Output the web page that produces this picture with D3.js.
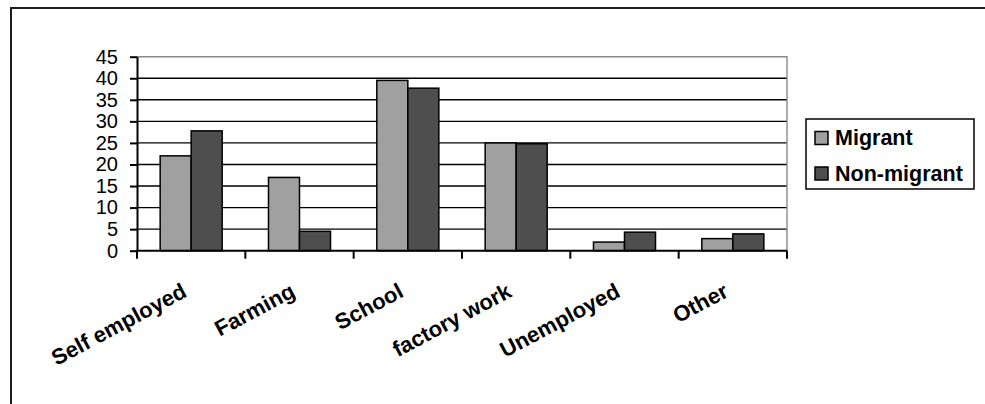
<!DOCTYPE html>
<html>
<head>
<meta charset="utf-8">
<script src="https://cdn.jsdelivr.net/npm/d3@7"></script>
<style>
  html, body { margin: 0; padding: 0; background: #fff; }
  svg { display: block; }
  text { font-family: "Liberation Sans", Arial, sans-serif; fill: #000; }
</style>
</head>
<body>
<svg id="chart" width="985" height="404"></svg>
<script>
// Occupation of respondents, migrant vs non-migrant (%)
const categories = ["Self employed", "Farming", "School", "factory work", "Unemployed", "Other"];
const seriesNames = ["Migrant", "Non-migrant"];
const migrant = [22, 17, 39.5, 25, 2, 2.8];
const nonMigrant = [27.8, 4.5, 37.7, 24.8, 4.3, 3.9];
const yTicks = [0, 5, 10, 15, 20, 25, 30, 35, 40, 45];

const seriesValues = [migrant, nonMigrant];
const seriesFill = ["#a0a0a0", "#4e4e4e"];

const svg = d3.select("#chart");

// chart frame (only top and left edges fall inside the view)
svg.append("path")
  .attr("d", "M11,404 V8 H985")
  .attr("fill", "none")
  .attr("stroke", "#1c1c1c")
  .attr("stroke-width", 2);

const plot = { left: 137, right: 787, top: 56.7, bottom: 250.7 };

const x = d3.scaleBand()
  .domain(categories)
  .range([plot.left, plot.right])
  .paddingInner(0)
  .paddingOuter(0);

const xInner = d3.scaleBand()
  .domain(seriesNames)
  .range([0, x.bandwidth()])
  .paddingInner(0)
  .paddingOuter(0.747);

const y = d3.scaleLinear()
  .domain([0, 45])
  .range([plot.bottom, plot.top]);

// horizontal gridlines
svg.append("g")
  .selectAll("line")
  .data(yTicks.filter(t => t > 0 && t < 45))
  .join("line")
  .attr("x1", plot.left)
  .attr("x2", plot.right)
  .attr("y1", d => y(d))
  .attr("y2", d => y(d))
  .attr("stroke", "#000")
  .attr("stroke-width", 1.4);

// plot-area border (top and right)
svg.append("path")
  .attr("d", `M${plot.left},${y(45)} H${plot.right} V${plot.bottom}`)
  .attr("fill", "none")
  .attr("stroke", "#8a8a8a")
  .attr("stroke-width", 1.4);

// bars
const rows = categories.map((c, i) => ({
  category: c,
  values: seriesNames.map((s, j) => ({ series: s, value: seriesValues[j][i], color: seriesFill[j] }))
}));

svg.append("g")
  .selectAll("g")
  .data(rows)
  .join("g")
  .attr("transform", d => `translate(${x(d.category)},0)`)
  .selectAll("rect")
  .data(d => d.values)
  .join("rect")
  .attr("x", d => xInner(d.series))
  .attr("width", xInner.bandwidth())
  .attr("y", d => y(d.value))
  .attr("height", d => y(0) - y(d.value))
  .attr("fill", d => d.color)
  .attr("stroke", "#000")
  .attr("stroke-width", 1.5);

// y axis
const yAxis = d3.axisLeft(y)
  .tickValues(yTicks)
  .tickFormat(d3.format("d"))
  .tickSizeInner(7)
  .tickSizeOuter(0)
  .tickPadding(12);

const gy = svg.append("g")
  .attr("transform", `translate(${plot.left},0)`)
  .call(yAxis);
gy.select(".domain").attr("stroke", "#000").attr("stroke-width", 2);
gy.selectAll(".tick line").attr("stroke", "#000").attr("stroke-width", 2);
gy.selectAll(".tick text")
  .attr("font-size", 20)
  .style("font-family", "'Liberation Sans', Arial, sans-serif");

// x axis: ticks sit on category boundaries
const boundaries = categories.map(c => x(c)).concat([plot.right]);
const gx = svg.append("g");
gx.append("line")
  .attr("x1", plot.left).attr("x2", plot.right)
  .attr("y1", plot.bottom).attr("y2", plot.bottom)
  .attr("stroke", "#000").attr("stroke-width", 2);
gx.selectAll("line.tick")
  .data(boundaries)
  .join("line")
  .attr("class", "tick")
  .attr("x1", d => d).attr("x2", d => d)
  .attr("y1", plot.bottom).attr("y2", plot.bottom + 8)
  .attr("stroke", "#000").attr("stroke-width", 2);

// rotated category labels
gx.selectAll("text")
  .data(categories)
  .join("text")
  .attr("transform", d => `translate(${x(d) + x.bandwidth() / 2 - 3},296) rotate(-28)`)
  .attr("text-anchor", "end")
  .attr("font-size", 22)
  .attr("font-weight", "bold")
  .text(d => d);

// legend
const legend = svg.append("g");
legend.append("rect")
  .attr("x", 806).attr("y", 119)
  .attr("width", 168).attr("height", 70)
  .attr("fill", "#fff")
  .attr("stroke", "#000")
  .attr("stroke-width", 1.5);

const items = legend.selectAll("g.item")
  .data(seriesNames)
  .join("g")
  .attr("class", "item")
  .attr("transform", (d, i) => `translate(815,${131.5 + i * 35.5})`);
items.append("rect")
  .attr("width", 13).attr("height", 13)
  .attr("fill", (d, i) => seriesFill[i])
  .attr("stroke", "#000")
  .attr("stroke-width", 1.5);
items.append("text")
  .attr("x", 20)
  .attr("y", 13.5)
  .attr("font-size", 21.5)
  .attr("font-weight", "bold")
  .text(d => d);
</script>
</body>
</html>
